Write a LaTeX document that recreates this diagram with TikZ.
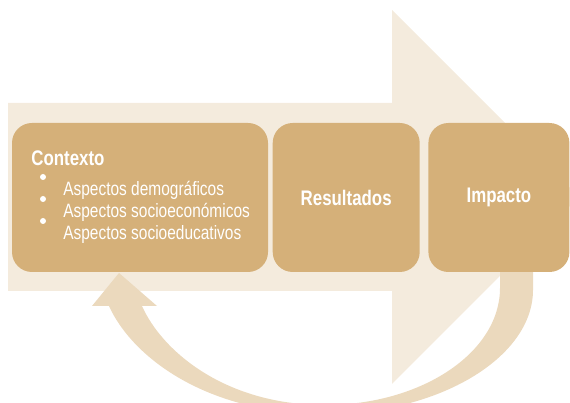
\documentclass[tikz,border=0pt]{standalone}
\usepackage{fontspec}
\setmainfont{Liberation Sans}[FakeStretch=0.8]
\usepackage{xcolor}
\definecolor{arrowbeige}{RGB}{244, 235, 221}
\definecolor{loopbeige}{RGB}{235, 217, 189}
\definecolor{boxtan}{RGB}{213, 176, 121}
\usepackage{tikz}
\usetikzlibrary{positioning}
\tikzstyle{stagebox} = [
    fill=boxtan,
    rounded corners=0.4cm,
    minimum height=2.98cm,
    inner sep=0pt,
    text=white,
    font=\bfseries\fontsize{12}{14}\selectfont
]
\tikzstyle{itemtext} = [
    text=white,
    inner sep=0pt,
    font=\fontsize{11}{13}\selectfont
]

\begin{document}
\begin{tikzpicture}
        \clip (0,0) rectangle (11.4,8.06);

        % Big arrow in the background
        \fill[arrowbeige] (0.16,6.00) -- (7.84,6.00) -- (7.84,7.86) -- (11.58,4.12)
            -- (7.84,0.38) -- (7.84,2.24) -- (0.16,2.24) -- cycle;

        % Loop arrow back to the first stage
        \fill[loopbeige] (10.66,2.82) -- (10.66,2.26)
            .. controls (10.66,0.92) and (8.80,-0.22) .. (6.50,-0.22)
            .. controls (4.10,-0.22) and (2.63,0.94) .. (2.18,1.94)
            -- (1.84,1.94) -- (2.38,2.60) -- (3.14,1.94) -- (2.84,1.94)
            .. controls (3.24,1.04) and (4.50,-0.04) .. (6.50,-0.04)
            .. controls (8.43,-0.04) and (10.00,1.01) .. (10.00,2.30)
            -- (10.00,2.82) -- cycle;

        % Stages
        \node[stagebox, minimum width=5.12cm] (ctx) at (2.80,4.11) {};
        \node[stagebox, minimum width=2.94cm, right=0.08cm of ctx] (res) {Resultados};
        \node[stagebox, minimum width=2.82cm, right=0.16cm of res] (imp) {Impacto};

        % Context list
        \node[itemtext, font=\bfseries\fontsize{12}{14}\selectfont, anchor=base west] (ctxtitle) at (0.62,4.74) {Contexto};
        \foreach \txt [count=\i] in {Aspectos demográficos,Aspectos socioeconómicos,Aspectos socioeducativos} {
            \node[itemtext, anchor=base west] (item\i) at (1.26,4.58-0.44*\i) {\txt};
            \fill[white] (0.86,4.96-0.44*\i) circle (0.06);
        }
    \end{tikzpicture}
\end{document}
